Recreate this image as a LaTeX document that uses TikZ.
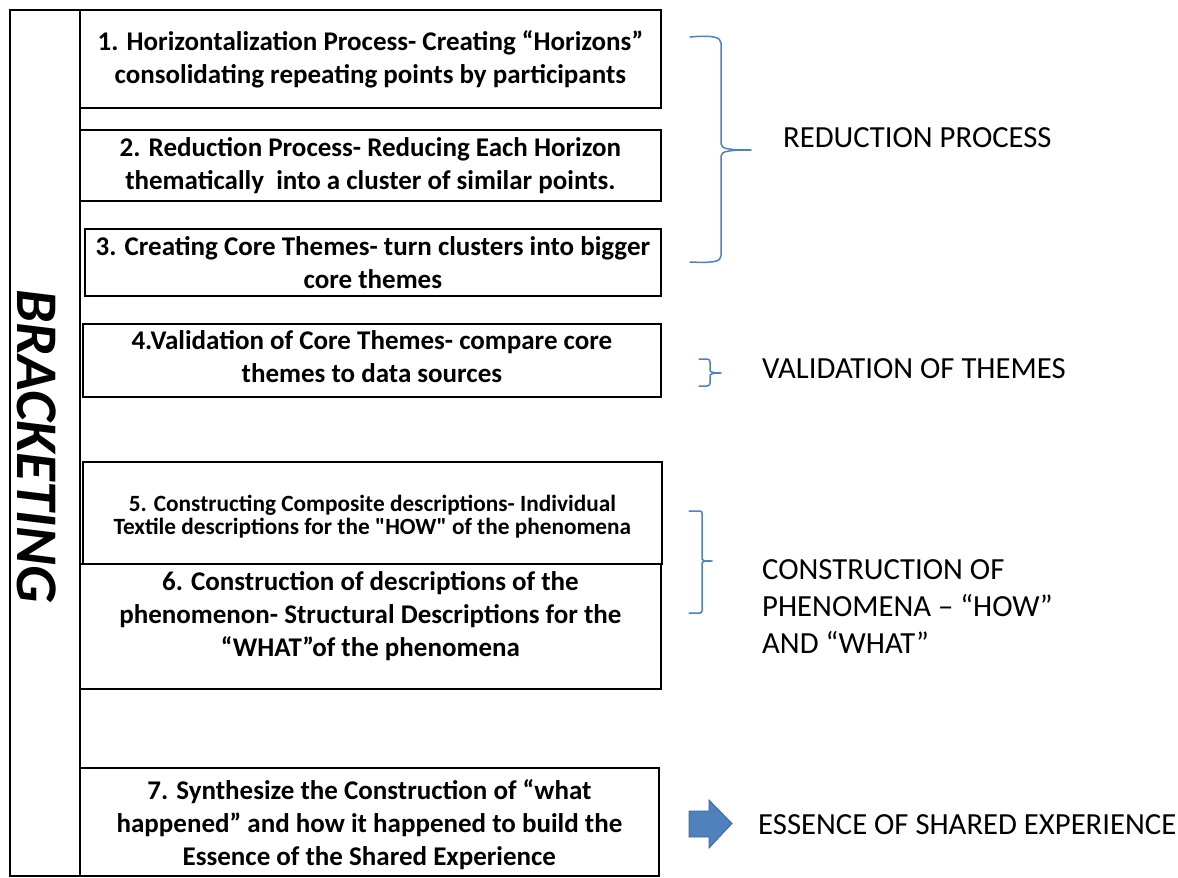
\documentclass[tikz,border=0pt]{standalone}
\usepackage{fontspec}
\setmainfont{Carlito}
\definecolor{bracecol}{HTML}{4F81BD}
\definecolor{arrowfill}{HTML}{4F81BD}
\definecolor{arrowline}{HTML}{3A6699}
\newcommand{\straightq}[1]{{\addfontfeature{Ligatures=TeXOff}"#1"}}
\begin{document}
\begin{tikzpicture}[x=1pt,y=-1pt,
  box/.style={draw=black, line width=1.8pt, inner sep=0pt, anchor=north west},
  btext/.style={font=\fontsize{27}{33}\selectfont\bfseries, align=center, inner sep=0pt},
  bsmall/.style={font=\fontsize{23.3}{23.5}\selectfont\bfseries, align=center, inner sep=0pt},
  lbl/.style={font=\fontsize{30.7}{37}\selectfont, align=left, anchor=west, inner sep=0pt},
  brace/.style={draw=bracecol, line width=1.5pt, line cap=round, line join=round},
  frame/.style={draw=black, line width=1.8pt}
]
\useasboundingbox (0,0) rectangle (1178,878);
\fill[white] (0,0) rectangle (1178,878);

% bracketing column
\node[frame, minimum width=70pt, minimum height=866pt, inner sep=0pt, anchor=north west] (col) at (9,9) {};
\node[rotate=-90, inner sep=0pt, font=\fontsize{59}{64}\selectfont\bfseries\itshape] (brk) at (37,446) {BRACKETING};

% boxes
\node[box, minimum width=581pt, minimum height=98pt] (b1) at (79,9) {};
\node[box, minimum width=581pt, minimum height=71pt] (b2) at (79,129) {};
\node[box, minimum width=576pt, minimum height=67pt] (b3) at (84,228) {};
\node[box, minimum width=578pt, minimum height=73pt] (b4) at (82,323) {};
\node[box, minimum width=579pt, minimum height=102pt] (b5) at (82,461) {};
\node[box, minimum width=581pt, minimum height=125pt] (b6) at (79,563) {};
\node[box, minimum width=579pt, minimum height=108pt] (b7) at (79,767) {};

\node[btext] (t1) at (b1.center) {1. Horizontalization Process- Creating “Horizons”\\consolidating repeating points by participants};
\node[btext] (t2) at (b2.center) {2. Reduction Process- Reducing Each Horizon\\thematically\ \ into a cluster of similar points.};
\node[btext] (t3) at (b3.center) {3. Creating Core Themes- turn clusters into bigger\\core themes};
\node[btext] (t4) at ([yshift=4pt]b4.center) {4.Validation of Core Themes- compare core\\themes to data sources};
\node[bsmall] (t5) at ([yshift=-3.5pt]b5.center) {5. Constructing Composite descriptions- Individual\\Textile descriptions for the \straightq{HOW}\ of the phenomena};
\node[btext] (t6) at ([yshift=10pt]b6.center) {6. Construction of descriptions of the\\phenomenon- Structural Descriptions for the\\“WHAT”of the phenomena};
\node[btext] (t7) at ([yshift=-2.5pt]b7.center) {7. Synthesize the Construction of “what\\happened” and how it happened to build the\\Essence of the Shared Experience};

% braces
\coordinate (r1a) at (690,37);
\coordinate (r1t) at (751,150);
\coordinate (r1b) at (690,262);
\draw[brace] (r1a) .. controls (712,35) and (721,37) .. (721,43) -- (721,144)
  .. controls (721,149) and (730,150) .. (r1t)
  .. controls (730,150) and (721,151) .. (721,156) -- (721,256)
  .. controls (721,262) and (712,263) .. (r1b);

\coordinate (r2a) at (699,359);
\coordinate (r2t) at (721,373);
\coordinate (r2b) at (699,386);
\draw[brace] (r2a) -- (707,359) .. controls (709,359) and (710,360) .. (710,362) -- (710,370)
  .. controls (710,372) and (712,373) .. (r2t)
  .. controls (712,373) and (710,374) .. (710,376) -- (710,383)
  .. controls (710,385) and (709,386) .. (707,386) -- (r2b);

\coordinate (r3a) at (689,511);
\coordinate (r3t) at (712,561);
\coordinate (r3b) at (689,613);
\draw[brace] (r3a) -- (700,511) .. controls (701.5,511) and (702,512) .. (702,513.5) -- (702,559)
  .. controls (702,560.5) and (703,561) .. (r3t)
  .. controls (703,561) and (702,561.5) .. (702,563) -- (702,610.5)
  .. controls (702,612) and (701.5,613) .. (700,613) -- (r3b);

% arrow
\draw[fill=arrowfill, draw=arrowline, line width=0.8pt, line join=miter]
  (689,811) -- (709,811) -- (709,800) -- (732,823.5) -- (709,848) -- (709,837) -- (689,837) -- cycle;

% labels
\node[lbl] (l1) at (783,137.5) {REDUCTION PROCESS};
\node[lbl] (l2) at (762,368.5) {VALIDATION OF THEMES};
\node[lbl] (l3) at (762,606.5) {CONSTRUCTION OF\\PHENOMENA – “HOW”\\AND “WHAT”};
\node[lbl] (l4) at (758,825) {ESSENCE OF SHARED EXPERIENCE};
\end{tikzpicture}
\end{document}
